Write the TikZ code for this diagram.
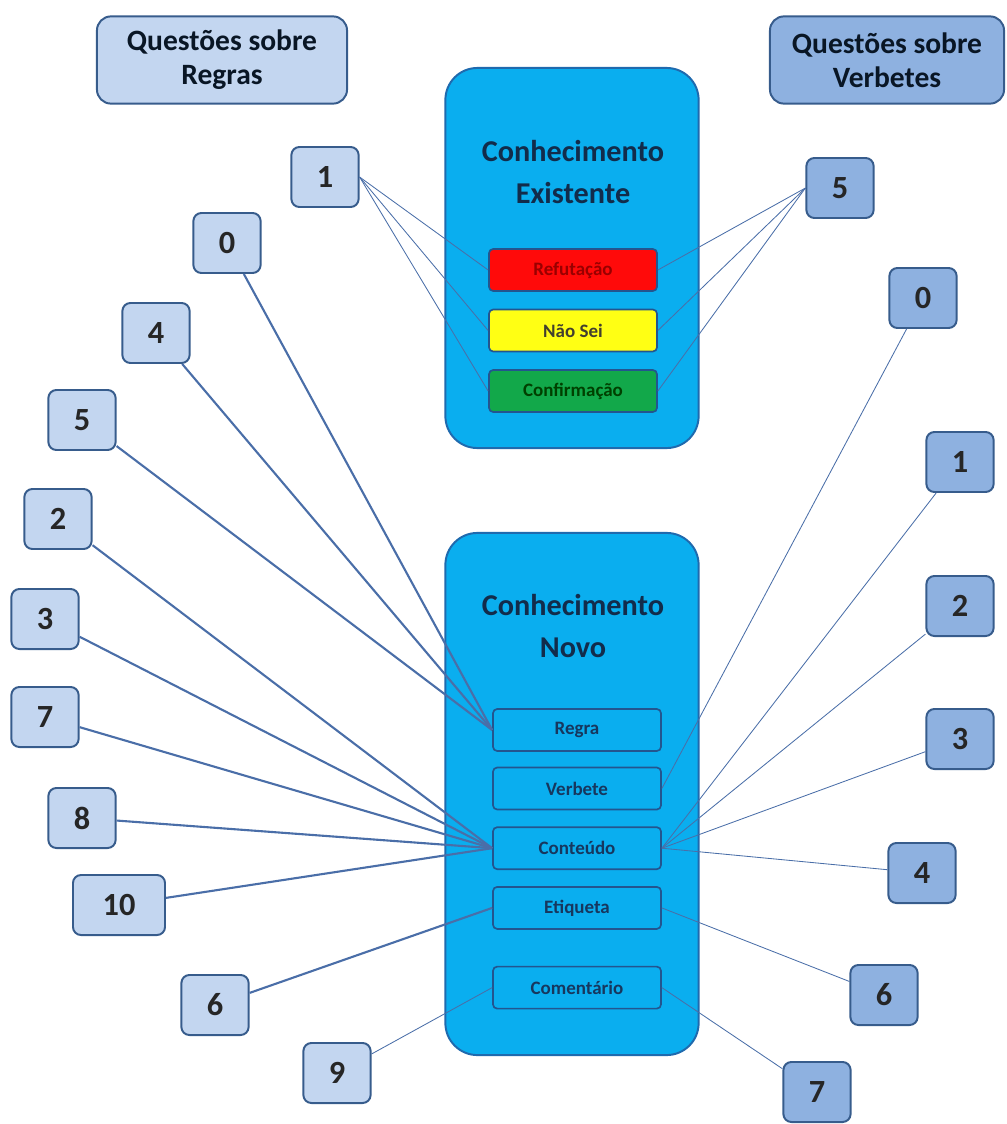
\documentclass[tikz,border=0pt]{standalone}
\usepackage{fontspec}
\setmainfont{Carlito}
\usetikzlibrary{positioning}
\definecolor{skyfill}{HTML}{0AAEEF}
\definecolor{skyedge}{HTML}{1F6AAE}
\definecolor{inedge}{HTML}{23558F}
\definecolor{qlight}{HTML}{C3D6F0}
\definecolor{qdark}{HTML}{8EB1E0}
\definecolor{qedge}{HTML}{375C8C}
\definecolor{navy}{HTML}{17375E}
\definecolor{wire}{HTML}{4A6EA8}
\definecolor{refred}{HTML}{FF0A0A}
\definecolor{naoyel}{HTML}{FFFF14}
\definecolor{confgreen}{HTML}{12A84A}

\begin{document}
\begin{tikzpicture}[
  x=0.025cm, y=-0.025cm,
  font=\bfseries,
  bigbox/.style={rectangle, draw=skyedge, line width=1.4pt, rounded corners=0.8cm, fill=skyfill, minimum width=6.33cm},
  title/.style={align=center, text=navy!80!black, font=\bfseries\fontsize{21.5}{30}\selectfont},
  inbox/.style={rectangle, draw=inedge, line width=1.2pt, rounded corners=3pt, fill=skyfill, minimum width=4.2cm, minimum height=1.05cm, text=navy, font=\bfseries\fontsize{13.5}{15}\selectfont},
  head/.style={rectangle, draw=qedge, line width=1.4pt, rounded corners=0.35cm, minimum height=2.18cm, align=center, text=navy!40!black, font=\bfseries\fontsize{21}{24}\selectfont},
  qleft/.style={rectangle, draw=qedge, line width=1.4pt, rounded corners=0.2cm, fill=qlight, minimum width=1.68cm, minimum height=1.5cm, text=black!85, font=\bfseries\fontsize{23}{26}\selectfont},
  qright/.style={qleft, fill=qdark},
  thick wire/.style={wire, line width=1.5pt},
  thin wire/.style={wire, line width=0.6pt},
  node distance=0.42cm]
\useasboundingbox (0,0) rectangle (1006,1124);
% cabecalhos
\node[head, fill=qlight, minimum width=6.25cm] (hregras) at (222,60) {Questões sobre\\Regras};
\node[head, fill=qdark, minimum width=5.85cm] (hverbetes) at (887,60) {Questões sobre\\Verbetes};
% conhecimento existente
\node[bigbox, minimum height=9.5cm] (existente) at (572,258) {};
\node[title] (texist) at (573,172) {Conhecimento\\Existente};
\node[inbox, fill=refred, text=red!60!black] (refut) at (573,270) {Refutação};
\node[inbox, fill=naoyel, text=black!70!olive, below=of refut] (naosei) {Não Sei};
\node[inbox, fill=confgreen, text=black!75!green, below=of naosei] (confirm) {Confirmação};
% conhecimento novo
\node[bigbox, minimum height=13.05cm] (novo) at (572,794) {};
\node[title] (tnovo) at (573,626) {Conhecimento\\Novo};
\node[inbox] (regra) at (577,730) {Regra};
\node[inbox, below=0.37cm of regra] (verbete) {Verbete};
\node[inbox, below=0.4cm of verbete] (conteudo) {Conteúdo};
\node[inbox, below=0.4cm of conteudo] (etiqueta) {Etiqueta};
\node[inbox, below=0.9cm of etiqueta] (comentario) {Comentário};
% questoes sobre regras
\node[qleft] (l1) at (325,177) {1};
\node[qleft] (l0) at (227,243) {0};
\node[qleft] (l4) at (156,333) {4};
\node[qleft] (l5) at (82,420) {5};
\node[qleft] (l2) at (58,519) {2};
\node[qleft] (l3) at (45,619) {3};
\node[qleft] (l7) at (45,717) {7};
\node[qleft] (l8) at (82,818) {8};
\node[qleft, minimum width=2.3cm] (l10) at (119,905) {10};
\node[qleft] (l6) at (215,1005) {6};
\node[qleft] (l9) at (337,1073) {9};
% questoes sobre verbetes
\node[qright] (r5) at (840,188) {5};
\node[qright] (r0) at (923,298) {0};
\node[qright] (r1) at (960,462) {1};
\node[qright] (r2) at (960,606) {2};
\node[qright] (r3) at (960,739) {3};
\node[qright] (r4) at (922,873) {4};
\node[qright] (r6) at (884,995) {6};
\node[qright] (r7) at (817,1092) {7};
% ligacoes
\draw[thin wire] (l1.east) -- (refut.west); \draw[thin wire] (l1.east) -- (naosei.west); \draw[thin wire] (l1.east) -- (confirm.west);
\draw[thin wire] (r5.west) -- (refut.east); \draw[thin wire] (r5.west) -- (naosei.east); \draw[thin wire] (r5.west) -- (confirm.east);
\draw[thick wire] (l0) -- (regra.west); \draw[thick wire] (l4) -- (regra.west); \draw[thick wire] (l5) -- (regra.west);
\draw[thick wire] (l2) -- (conteudo.west); \draw[thick wire] (l3) -- (conteudo.west); \draw[thick wire] (l7) -- (conteudo.west);
\draw[thick wire] (l8) -- (conteudo.west); \draw[thick wire] (l10) -- (conteudo.west);
\draw[thick wire] (l6) -- (etiqueta.west); \draw[thin wire] (l9) -- (comentario.west);
\draw[thin wire] (r0) -- (verbete.east);
\draw[thin wire] (r1) -- (conteudo.east); \draw[thin wire] (r2) -- (conteudo.east); \draw[thin wire] (r3) -- (conteudo.east); \draw[thin wire] (r4) -- (conteudo.east);
\draw[thin wire] (r6) -- (etiqueta.east); \draw[thin wire] (r7) -- (comentario.east);
\end{tikzpicture}
\end{document}
